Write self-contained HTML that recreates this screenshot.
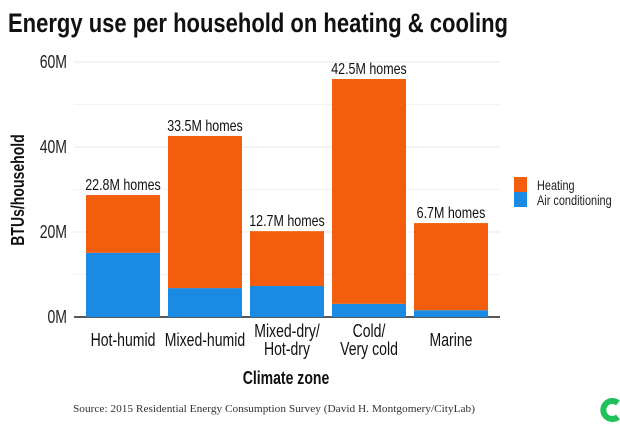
<!DOCTYPE html>
<html><head><meta charset="utf-8"><style>
html,body{margin:0;padding:0;background:#fff;}
svg{display:block;}
text{font-family:"Liberation Sans",sans-serif;}
</style></head><body>
<svg id="chart" width="620" height="428" viewBox="0 0 620 428">
<text x="8" y="32" font-size="27" font-weight="bold" fill="#111" textLength="500" lengthAdjust="spacingAndGlyphs">Energy use per household on heating &amp; cooling</text>
<g id="grid"></g>
<g id="bars"></g>
<g id="labels"></g>
<text class="c" transform="translate(24,190) rotate(-90)" text-anchor="middle" font-size="18" font-weight="bold" fill="#111">BTUs/household</text>
<text class="c" x="286" y="384" text-anchor="middle" font-size="18" font-weight="bold" fill="#111">Climate zone</text>
<g>
<rect x="514" y="177" width="13" height="15" fill="#f25d0e"/>
<text class="c" x="537" y="190" font-size="14" fill="#222">Heating</text>
<rect x="514" y="192" width="13" height="15" fill="#1a8ae2"/>
<text class="c" x="537" y="205" font-size="14" fill="#222">Air conditioning</text>
</g>
<text x="73" y="412" font-size="11" fill="#333" textLength="402" lengthAdjust="spacingAndGlyphs" style="font-family:'Liberation Serif',serif">Source: 2015 Residential Energy Consumption Survey (David H. Montgomery/CityLab)</text>
<g>
<path d="M618 403 A9 9 0 1 0 618 417" fill="none" stroke="#1fc25a" stroke-width="6"/>
</g>
</svg>
<script>
const categories=[["Hot-humid"],["Mixed-humid"],["Mixed-dry/","Hot-dry"],["Cold/","Very cold"],["Marine"]];
const acValues=[15.1,6.8,7.3,3.1,1.6];
const heatingValues=[13.6,35.8,12.9,52.9,20.5];
const homesLabels=["22.8M homes","33.5M homes","12.7M homes","42.5M homes","6.7M homes"];
const yTicks=[0,20,40,60];
const yMinor=[10,30,50];
const NS="http://www.w3.org/2000/svg";
const x0=74,x1=500,y0=317,yTop=62,yMax=60;
const y=v=>y0-(v/yMax)*(y0-yTop);
const step=82,bw=74,bx0=86;
const xb=i=>bx0+i*step;
function mk(tag,attrs,parent){const e=document.createElementNS(NS,tag);for(const k in attrs)e.setAttribute(k,attrs[k]);parent.appendChild(e);return e;}
const grid=document.getElementById('grid'),bars=document.getElementById('bars'),labels=document.getElementById('labels');
yMinor.forEach(v=>{const l=mk('line',{x1:x0,x2:x1,y1:y(v),y2:y(v),stroke:'#f2f2f2','stroke-width':1},grid);

});
yTicks.forEach(v=>{const l=mk('line',{x1:x0,x2:x1,y1:y(v),y2:y(v),stroke:v===0?'#222':'#e8e8e8','stroke-width':v===0?1.5:1},grid);


const t=mk('text',{x:67,y:y(v)+6,'text-anchor':'end','font-size':18,fill:'#222',class:'c'},grid);t.textContent=v+'M';

});
categories.forEach((c,i)=>{
const a=mk('rect',{x:xb(i),width:bw,y:y(acValues[i]),height:y0-y(acValues[i]),fill:'#1a8ae2'},bars);


const tot=acValues[i]+heatingValues[i];
const h=mk('rect',{x:xb(i),width:bw,y:y(tot),height:y(acValues[i])-y(tot),fill:'#f25d0e'},bars);


const t=mk('text',{x:xb(i)+bw/2,y:y(tot)-5,'text-anchor':'middle','font-size':16,fill:'#111',class:'c'},labels);t.textContent=homesLabels[i];


const cx=xb(i)+bw/2;
if(c.length===1){const l=mk('text',{x:cx,y:346,'text-anchor':'middle','font-size':18,fill:'#111',class:'c'},labels);l.textContent=c[0];

}
else c.forEach((s,j)=>{const l=mk('text',{x:cx,y:337+j*18,'text-anchor':'middle','font-size':18,fill:'#111',class:'c'},labels);l.textContent=s;

});
});
document.querySelectorAll('text.c').forEach(t=>{const w=t.getComputedTextLength();t.setAttribute('textLength',(w*0.78).toFixed(1));t.setAttribute('lengthAdjust','spacingAndGlyphs');});
</script>
</body></html>
